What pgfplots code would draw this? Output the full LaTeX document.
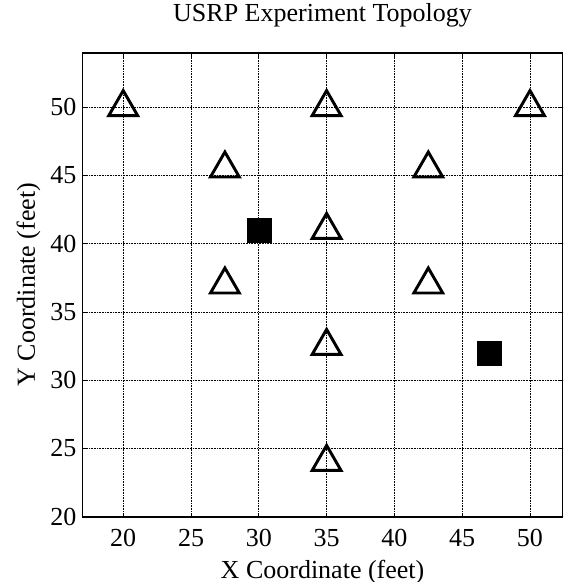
\documentclass[border=0pt]{standalone}
\usepackage{fontspec}
\setmainfont{Liberation Serif}
\usepackage{pgfplots}
\pgfplotsset{compat=1.18}
\newcommand{\ff}{\fontsize{19.5}{23}\selectfont}
\begin{document}
\begin{tikzpicture}
\begin{axis}[
  name=ax,
  scale only axis, width=360pt, height=348pt,
  xmin=17, xmax=52.4, ymin=20, ymax=54,
  xtick={20,25,...,50}, ytick={20,25,...,50},
  tick align=inside, major tick length=3pt,
  tick style={black, line width=0.6pt},
  grid=major,
  major grid style={black, line width=0.6pt, dash pattern=on 0.6pt off 0.6pt},
  axis line style={black, line width=1.3pt},
  /pgf/number format/assume math mode=true,
  tick label style={font=\ff},
  xticklabel style={anchor=base, inner sep=0pt, yshift=-22.5pt},
  yticklabel style={anchor=east, inner sep=0pt, xshift=-4.5pt},
  title={USRP Experiment Topology},
  title style={font=\ff, at={(axis description cs:0.5,1.0489)}, anchor=base, inner sep=0pt},
  xlabel={X Coordinate (feet)},
  xlabel style={font=\ff, at={(axis description cs:0.5,-0.1322)}, anchor=base, inner sep=0pt},
  ylabel={Y Coordinate (feet)},
  ylabel style={font=\ff, at={(axis description cs:-0.0994,0.5)}, anchor=base, rotate=0, inner sep=0pt},
]
\addplot[only marks, mark=triangle, mark size=12.5pt,
  mark options={black, line width=2.2pt, line join=miter}]
  coordinates {(20,50) (35,50) (50,50) (27.5,45.5) (42.5,45.5) (35,41)
               (27.5,37) (42.5,37) (35,32.5) (35,24)};
\addplot[only marks, mark=square*, mark size=9pt,
  mark options={black, fill=black, line width=0.4pt}]
  coordinates {(30,41) (47,32)};
\end{axis}
\pgfresetboundingbox
\path ([shift={(-61.9pt,-49pt)}]ax.south west) rectangle ([shift={(0.4pt,39.5pt)}]ax.north east);
\end{tikzpicture}
\end{document}
